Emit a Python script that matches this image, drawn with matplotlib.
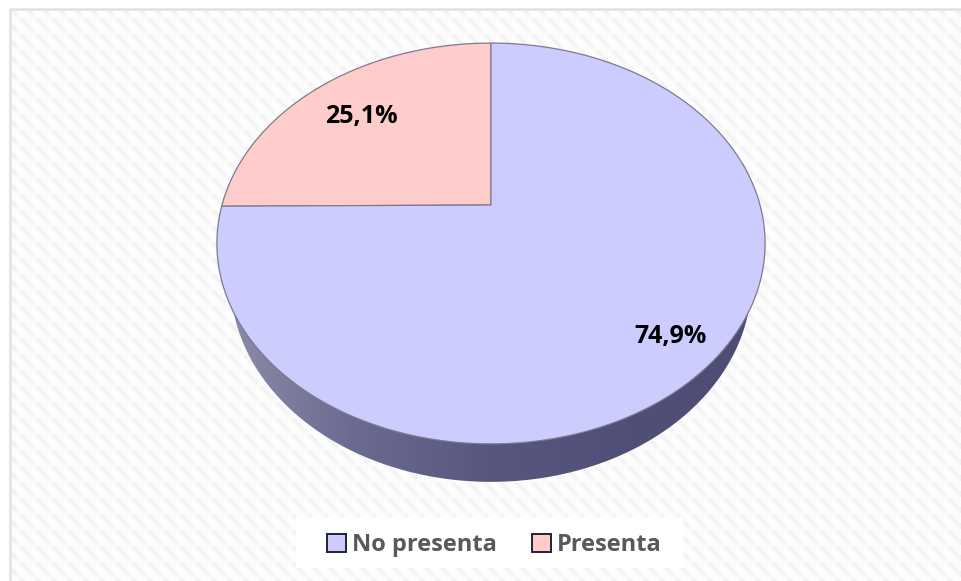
import matplotlib
matplotlib.use('Agg')
import matplotlib.pyplot as plt
import numpy as np
from matplotlib.colors import LinearSegmentedColormap, to_rgb
from matplotlib.patches import Polygon, Rectangle

categories = ['No presenta', 'Presenta']
values = [74.9, 25.1]
labels = ['74,9%', '25,1%']
colors = ['#ccccff', '#ffcccc']

plt.rcParams['font.family'] = ['Open Sans', 'DejaVu Sans']

# pie is tilted, so the circle goes through a perspective map
CX, CY, AX, BY, K = 491, 205, 269, 193, 0.192
DEPTH, SHRINK = 38, 0.95


def project(theta):
    x, y = np.cos(theta), np.sin(theta)
    return CX + AX * x / (1 + K * y), CY - BY * y / (1 + K * y)


def background():
    # weave texture behind the chart
    tile = np.full((8, 8), 0.99)
    for r in range(8):
        for c in range(8):
            if (c - r) % 8 in (0, 1, 2):
                tile[r, c] = 0.955
    tile[2, 5] = tile[4, 5] = tile[3, 4] = tile[3, 6] = 1.0
    tile[3, 5] = 0.97
    tile = np.kron(tile, np.ones((2, 2)))
    return np.tile(tile, (37, 61))[:581, :961]


fig = plt.figure(figsize=(9.61, 5.81), dpi=100)
ax = fig.add_axes([0, 0, 1, 1])
ax.set_xlim(0, 961)
ax.set_ylim(581, 0)
ax.axis('off')

ax.add_patch(Rectangle((0, 0), 961, 581, fc='white', ec='none', zorder=0))
ax.imshow(background(), cmap='gray', vmin=0, vmax=1, extent=(9, 970, 590, 9),
          interpolation='nearest', aspect='auto', zorder=1)
ax.plot([9.5, 9.5, 961], [581, 8.5, 8.5], color='#e2e2e2', lw=1.8, zorder=2)

# side of the pie
t = np.linspace(0, 2 * np.pi, 400)
px, py = project(t)
side = Polygon(np.c_[CX + (px - CX) * SHRINK, py + DEPTH], closed=True, fc='none', ec='none', zorder=3,
               transform=ax.transData)
ax.add_patch(side)
side_cols = ['#8e8eac', '#6b6b92', '#57577e', '#4f4f78', '#4c4c75']
cmap = LinearSegmentedColormap.from_list('side', [to_rgb(c) for c in side_cols])
grad = ax.imshow(np.linspace(0, 1, 256)[None, :], cmap=cmap, extent=(217, 765, 490, 200),
                 aspect='auto', zorder=3)
grad.set_clip_path(side)
ax.set_xlim(0, 961)
ax.set_ylim(581, 0)

# slices, first one ends at 12 o'clock going clockwise from the top
start = np.pi / 2
for value, color in zip(values[::-1], colors[::-1]):
    end = start + 2 * np.pi * value / sum(values)
    th = np.linspace(start, end, 300)
    sx, sy = project(th)
    ax.fill(np.r_[CX, sx], np.r_[CY, sy], fc=color, ec='#7f7a90', lw=0.9, zorder=4)
    start = end

ax.text(671, 336.5, labels[0], fontsize=18, fontweight='bold', color='black', ha='center', va='center', zorder=5)
ax.text(361, 116.5, labels[1], fontsize=18, fontweight='bold', color='black', ha='center', va='center', zorder=5)

# legend, white box is wider on the left than the entries
ax.add_patch(Rectangle((296, 517), 387, 51, fc='white', ec='none', zorder=5))
handles = [Rectangle((0, 0), 1, 1, fc=c, ec='#222233', lw=1.4) for c in colors]
leg = ax.legend(handles, categories, loc='center', bbox_to_anchor=(494.5, 545), bbox_transform=ax.transData,
                ncol=2, frameon=False, prop={'size': 17, 'weight': 'bold'}, labelcolor='#595959',
                handlelength=0.8, handleheight=0.8, handletextpad=0.25, columnspacing=1.5,
                borderpad=0.55, borderaxespad=0)
leg.set_zorder(6)

fig.savefig('out.png', dpi=100)
